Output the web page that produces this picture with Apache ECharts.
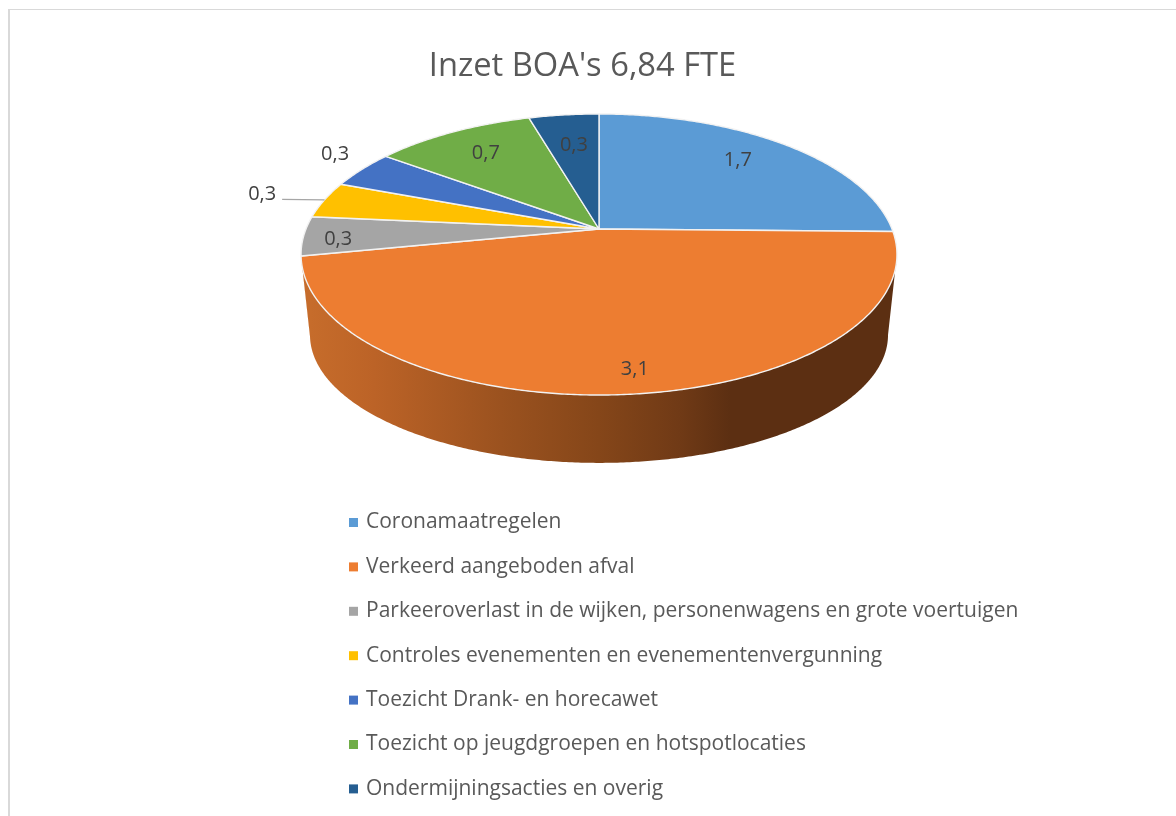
<!DOCTYPE html>
<html>
<head>
<meta charset="utf-8">
<title>Inzet BOA's</title>
<script src="https://cdn.jsdelivr.net/npm/echarts@6/dist/echarts.min.js"></script>
<style>
  html, body { margin: 0; padding: 0; background: #fff; overflow: hidden; }
  #chart { width: 1176px; height: 816px; }
  #frame { position: absolute; left: 8px; top: 9px; width: 1176px; height: 816px; border-left: 2px solid #d9d9d9; border-top: 1px solid #d9d9d9; pointer-events: none; }
</style>
</head>
<body>
<div id="chart"></div>
<div id="frame"></div>
<script>
const categories = [
  'Coronamaatregelen',
  'Verkeerd aangeboden afval',
  'Parkeeroverlast in de wijken, personenwagens en grote voertuigen',
  'Controles evenementen en evenementenvergunning',
  'Toezicht Drank- en horecawet',
  'Toezicht op jeugdgroepen en hotspotlocaties',
  'Ondermijningsacties en overig',
]
// geschat uit de hoeken van de taartpunten, opgeteld 6,84
const values = [1.73, 3.19, 0.31, 0.29, 0.30, 0.71, 0.31]
// zoals afgedrukt in de grafiek
const valueLabels = ['1,7', '3,1', '0,3', '0,3', '0,3', '0,7', '0,3']
const colors = ['#5B9BD5', '#ED7D31', '#A5A5A5', '#FFC000', '#4472C4', '#70AD47', '#255E91']

// perspective disc, fitted on the picture
const APEX = { x: 599, y: 229 }
const P = 0.1815
const RX = 293
const RY = 135.9
const LOWER = { kx: 0.97, ky: 0.91, top: 254.5, y: 335 }

// label anchor inside the slice, then a small nudge
const labelRadius = [0.8, 0.8, 0.8, 1.2, 1.1, 0.8, 0.8]
const labelNudge = [[-13, 0], [12, 14], [-25, 5], [-10, 0], [-5, -10], [7, 4], [4, 10]]
const LEADER_SLICE = 3

const total = values.reduce((a, b) => a + b, 0)
const starts = values.map((_, i) => values.slice(0, i).reduce((a, b) => a + b, 0) / total * 360)
const ends = starts.map((s, i) => s + values[i] / total * 360)

// the wall is visible between the two silhouette angles of the disc
const WALL_FROM = Math.acos(-P) * 180 / Math.PI
const WALL_TO = 360 - WALL_FROM

function project(deg, r = 1) {
  const a = deg * Math.PI / 180
  const t = r * Math.cos(a)
  const w = 1 + P * t
  return [APEX.x + RX * r * Math.sin(a) / w, APEX.y - RY * t / w]
}

function projectLower(deg) {
  const [x, y] = project(deg)
  return [APEX.x + LOWER.kx * (x - APEX.x), LOWER.y + LOWER.ky * (y - LOWER.top)]
}

function arc(from, to, fn) {
  const steps = Math.max(2, Math.ceil((to - from) * 2))
  const pts = []
  for (let i = 0; i <= steps; i++) pts.push(fn(from + (to - from) * i / steps))
  return pts
}

const wallFill = {
  type: 'linear', x: 310, y: 0, x2: 888, y2: 0, global: true,
  colorStops: [
    { offset: 0, color: '#C66C2B' },
    { offset: 0.11, color: '#BC6327' },
    { offset: 0.33, color: '#9B521F' },
    { offset: 0.5, color: '#854619' },
    { offset: 0.64, color: '#703A16' },
    { offset: 0.727, color: '#5C2F12' },
    { offset: 1, color: '#5C2F12' },
  ],
}

function renderSlice(i) {
  const children = []
  const wallFrom = Math.max(starts[i], WALL_FROM)
  const wallTo = Math.min(ends[i], WALL_TO)
  if (wallTo > wallFrom) {
    children.push({
      type: 'polygon',
      shape: { points: arc(wallFrom, wallTo, project).concat(arc(wallFrom, wallTo, projectLower).reverse()) },
      style: { fill: wallFill },
    })
  }
  children.push({
    type: 'polygon',
    shape: { points: [[APEX.x, APEX.y]].concat(arc(starts[i], ends[i], project)) },
    style: { fill: colors[i], stroke: '#F2F2F2', lineWidth: 1.4, lineJoin: 'round' },
    z2: 1,
  })
  const mid = (starts[i] + ends[i]) / 2
  const [lx, ly] = project(mid, labelRadius[i])
  const tx = lx + labelNudge[i][0]
  const ty = ly + labelNudge[i][1]
  if (i === LEADER_SLICE) {
    children.push({
      type: 'polyline',
      shape: { points: [[tx + 20, ty + 5], project(mid, 1)] },
      style: { fill: 'none', stroke: '#A6A6A6', lineWidth: 1.2 },
      z2: 2,
    })
  }
  children.push({
    type: 'text',
    x: tx,
    y: ty,
    style: {
      text: valueLabels[i],
      fill: '#404040',
      font: '20px "Open Sans", sans-serif',
      align: 'center',
      verticalAlign: 'middle',
    },
    z2: 3,
  })
  return { type: 'group', children }
}

const chart = echarts.init(document.getElementById('chart'), null, { renderer: 'canvas' })

chart.setOption({
  animation: false,
  title: {
    text: "Inzet BOA's 6,84 FTE",
    left: 577.5,
    top: 45,
    textAlign: 'center',
    textStyle: { fontFamily: '"Open Sans", sans-serif', fontSize: 32.7, fontWeight: 'normal', color: '#595959' },
  },
  legend: {
    orient: 'vertical',
    left: 349,
    top: 512,
    padding: 0,
    itemWidth: 9,
    itemHeight: 9,
    itemGap: 23.4,
    icon: 'rect',
    selectedMode: false,
    textStyle: { fontFamily: '"Open Sans", sans-serif', fontSize: 21, color: '#595959', padding: [0, 0, 0, 3] },
    data: categories,
  },
  series: categories.map((name, i) => ({
    type: 'custom',
    name,
    coordinateSystem: 'none',
    itemStyle: { color: colors[i] },
    data: [values[i]],
    renderItem: () => renderSlice(i),
  })),
})
</script>
</body>
</html>
